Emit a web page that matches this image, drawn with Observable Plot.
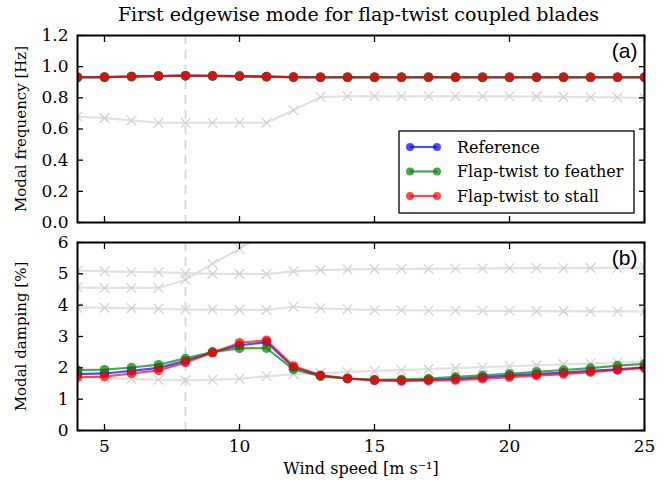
<!DOCTYPE html>
<html><head><meta charset="utf-8">
<script src="https://cdn.jsdelivr.net/npm/d3@7"></script>
<script src="https://cdn.jsdelivr.net/npm/@observablehq/plot@0.6"></script>
<style>
body{margin:0;background:#fff;}
#wrap{position:relative;width:665px;height:485px;font-family:"DejaVu Serif",serif;color:#000;overflow:hidden;}
#title{position:absolute;top:3px;left:70px;width:577px;text-align:center;font-size:19px;}
.panel{position:absolute;left:0;}
</style></head><body>
<div id="wrap"><div id="title">First edgewise mode for flap-twist coupled blades</div></div>
<script>
const windSpeed = [4,5,6,7,8,9,10,11,12,13,14,15,16,17,18,19,20,21,22,23,24,25];
const seriesNames = ["Reference","Flap-twist to feather","Flap-twist to stall"];
const seriesColors = ["#0000ff","#008000","#ff0000"];

const freqReference = [0.932,0.933,0.937,0.940,0.942,0.941,0.939,0.936,0.933,0.932,0.932,0.932,0.932,0.932,0.932,0.932,0.932,0.932,0.932,0.932,0.932,0.932];
const freqFeather   = [0.931,0.932,0.936,0.939,0.941,0.940,0.938,0.935,0.932,0.931,0.931,0.931,0.931,0.931,0.931,0.931,0.931,0.931,0.931,0.931,0.931,0.931];
const freqStall     = [0.932,0.933,0.937,0.940,0.942,0.941,0.939,0.936,0.933,0.932,0.932,0.932,0.932,0.932,0.932,0.932,0.932,0.932,0.932,0.932,0.932,0.932];
const freqOtherMode = [0.68,0.67,0.655,0.64,0.64,0.64,0.64,0.64,0.72,0.805,0.81,0.81,0.81,0.81,0.81,0.81,0.81,0.808,0.806,0.804,0.802,0.80];

const dampReference = [1.80,1.82,1.90,2.00,2.22,2.50,2.72,2.82,2.02,1.75,1.66,1.61,1.60,1.62,1.65,1.70,1.75,1.80,1.85,1.90,1.95,2.02];
const dampFeather   = [1.93,1.94,2.01,2.10,2.30,2.50,2.62,2.63,1.95,1.73,1.66,1.62,1.63,1.66,1.71,1.76,1.81,1.87,1.93,1.99,2.07,2.13];
const dampStall     = [1.70,1.72,1.82,1.92,2.17,2.48,2.80,2.88,2.06,1.76,1.66,1.60,1.58,1.59,1.61,1.65,1.70,1.75,1.80,1.86,1.93,1.99];
const dampOtherA = [5.10,5.08,5.06,5.05,5.02,5.00,5.00,4.99,5.08,5.12,5.14,5.15,5.16,5.16,5.17,5.17,5.18,5.18,5.18,5.19,5.19,5.20];
const dampOtherBWind = [4,5,6,7,8,9,10,11];
const dampOtherB = [4.57,4.55,4.55,4.55,4.81,5.32,5.80,6.30];
const dampOtherC = [3.92,3.92,3.90,3.89,3.86,3.86,3.85,3.85,3.95,3.90,3.87,3.84,3.84,3.83,3.83,3.82,3.82,3.81,3.81,3.80,3.80,3.80];
const dampOtherD = [1.70,1.68,1.65,1.62,1.60,1.62,1.65,1.73,1.80,1.83,1.86,1.90,1.93,1.96,1.99,2.02,2.05,2.08,2.11,2.14,2.17,2.20];

const xTicks = [5,10,15,20,25];
const freqTicks = [0,0.2,0.4,0.6,0.8,1.0,1.2];
const dampTicks = [0,1,2,3,4,5,6];
const ratedWind = [8];

const toRows = (xs, ys) => xs.map((x,i)=>({x, y: ys[i]}));

function grayMarks(rows){
  return [
    Plot.line(rows,{x:"x",y:"y",stroke:"#dcdcdc",strokeWidth:2.2,strokeOpacity:0.85}),
    Plot.dot(rows,{x:"x",y:"y",symbol:"times",stroke:"#d0d0d0",r:4.5,strokeWidth:1.2})
  ];
}
function colorMarks(rows,color){
  return [
    Plot.line(rows,{x:"x",y:"y",stroke:color,strokeWidth:2.2,strokeOpacity:0.7}),
    Plot.dot(rows,{x:"x",y:"y",fill:color,fillOpacity:0.7,r:4.8})
  ];
}
function frameAxes(yTicks, fmt, label, showX){
  const m = [
    Plot.frame({stroke:"black",strokeWidth:2}),
    Plot.axisX({anchor:"bottom",ticks:xTicks,tickSize:-6,strokeWidth:1.3,tickFormat:()=>"",label:null}),
    Plot.axisX({anchor:"top",ticks:xTicks,tickSize:-6,strokeWidth:1.3,tickFormat:()=>"",label:null}),
    Plot.axisY({anchor:"left",ticks:yTicks,tickSize:-6,strokeWidth:1.3,tickFormat:()=>"",label:null}),
    Plot.axisY({anchor:"right",ticks:yTicks,tickSize:-6,strokeWidth:1.3,tickFormat:()=>"",label:null}),
    Plot.axisY({anchor:"left",ticks:yTicks,tickSize:0,tickPadding:9,tickFormat:fmt,fontSize:17,label:null}),
    Plot.axisY({anchor:"left",ticks:[],tickSize:0,fontSize:15,
      label, labelAnchor:"center", labelArrow:"none", labelOffset:62})
  ];
  if (showX) m.push(
    Plot.axisX({anchor:"bottom",ticks:xTicks,tickSize:0,tickPadding:9,fontSize:17,label:null}),
    Plot.axisX({anchor:"bottom",ticks:[],tickSize:0,fontSize:16,
      label:"Wind speed [m s⁻¹]",labelAnchor:"center",labelArrow:"none",labelOffset:43}));
  return m;
}

const style = {fontFamily:"DejaVu Serif, serif",fontSize:"15px",color:"black",background:"transparent",overflow:"visible"};

const topPlot = Plot.plot({
  width:665,height:205,marginLeft:77,marginRight:21,marginTop:10,marginBottom:8,
  style,
  x:{domain:[4,25]},
  y:{domain:[0,1.2]},
  clip:true,
  marks:[
    Plot.ruleX(ratedWind,{stroke:"#d6d6d6",strokeWidth:1.8,strokeDasharray:"9,6"}),
    ...grayMarks(toRows(windSpeed,freqOtherMode)),
    ...colorMarks(toRows(windSpeed,freqReference),seriesColors[0]),
    ...colorMarks(toRows(windSpeed,freqFeather),seriesColors[1]),
    ...colorMarks(toRows(windSpeed,freqStall),seriesColors[2]),
    Plot.text(["(a)"],{frameAnchor:"top-right",dx:-7,dy:8,fontFamily:"Liberation Sans, Arial, sans-serif",fontSize:21}),
    ...frameAxes(freqTicks,d=>d.toFixed(1),"Modal frequency [Hz]",false)
  ]
});
topPlot.classList.add("panel");
topPlot.style.top = "25px";

const bottomPlot = Plot.plot({
  width:665,height:253,marginLeft:77,marginRight:21,marginTop:10,marginBottom:55,
  style,
  x:{domain:[4,25]},
  y:{domain:[0,6]},
  clip:true,
  marks:[
    Plot.ruleX(ratedWind,{stroke:"#d6d6d6",strokeWidth:1.8,strokeDasharray:"9,6"}),
    ...grayMarks(toRows(windSpeed,dampOtherA)),
    ...grayMarks(toRows(dampOtherBWind,dampOtherB)),
    ...grayMarks(toRows(windSpeed,dampOtherC)),
    ...grayMarks(toRows(windSpeed,dampOtherD)),
    ...colorMarks(toRows(windSpeed,dampReference),seriesColors[0]),
    ...colorMarks(toRows(windSpeed,dampFeather),seriesColors[1]),
    ...colorMarks(toRows(windSpeed,dampStall),seriesColors[2]),
    Plot.text(["(b)"],{frameAnchor:"top-right",dx:-7,dy:8,fontFamily:"Liberation Sans, Arial, sans-serif",fontSize:21}),
    ...frameAxes(dampTicks,d=>String(d),"Modal damping [%]",true)
  ]
});
bottomPlot.classList.add("panel");
bottomPlot.style.top = "232px";

const wrap = document.getElementById("wrap");
wrap.appendChild(topPlot);
wrap.appendChild(bottomPlot);

// legend in top panel
const svg = d3.select(topPlot);
const lg = svg.append("g").attr("transform","translate(399,106)");
lg.append("rect").attr("width",235).attr("height",82).attr("fill","white").attr("stroke","black").attr("stroke-width",1.3);
seriesNames.forEach((name,i)=>{
  const y = 16 + i*24.5;
  lg.append("line").attr("x1",11).attr("x2",38).attr("y1",y).attr("y2",y)
    .attr("stroke",seriesColors[i]).attr("stroke-width",2.2).attr("stroke-opacity",0.7);
  [11,38].forEach(cx=>lg.append("circle").attr("cx",cx).attr("cy",y).attr("r",4)
    .attr("fill",seriesColors[i]).attr("fill-opacity",0.7));
  lg.append("text").attr("x",58).attr("y",y).attr("dy","0.35em").attr("text-anchor","start")
    .attr("font-family","DejaVu Serif, serif").attr("font-size",16).text(name);
});
</script>
</body></html>
